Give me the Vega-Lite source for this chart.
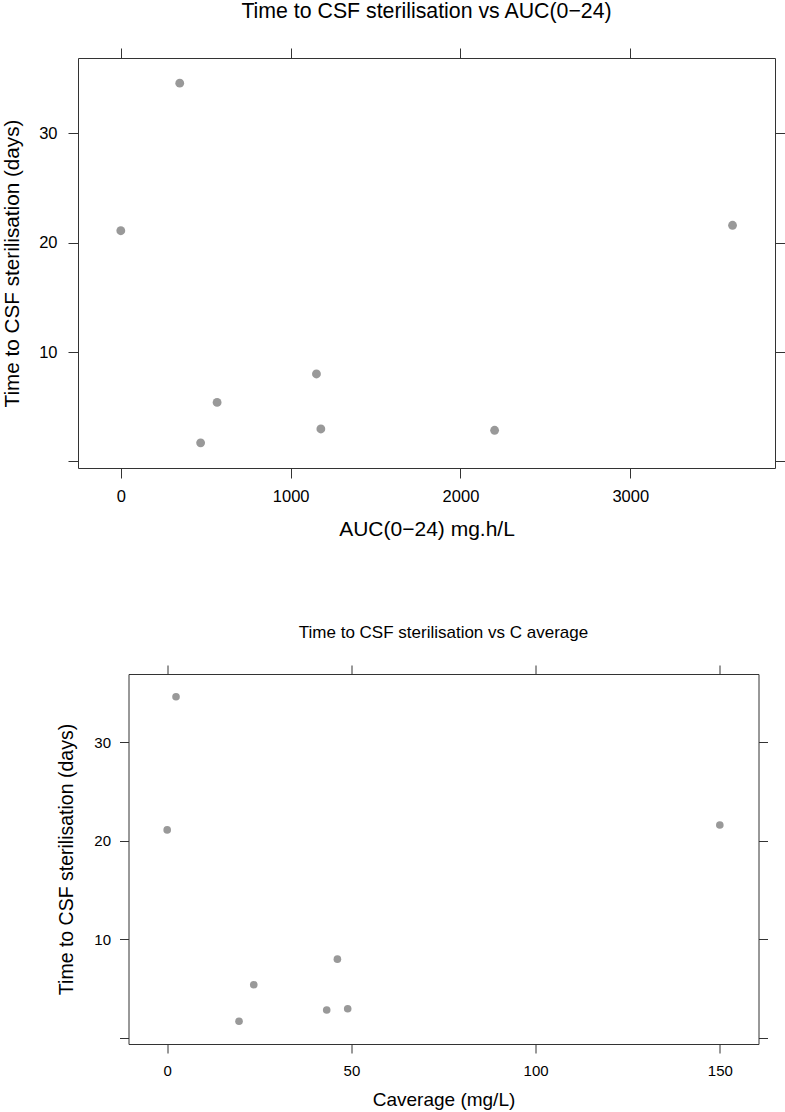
{
  "$schema": "https://vega.github.io/schema/vega-lite/v6.json",
  "background": "white",
  "padding": {"left": 1, "top": 0, "right": 0, "bottom": 0},
  "config": {
    "font": "Liberation Sans",
    "view": {"stroke": "#333333", "strokeWidth": 1},
    "axis": {"grid": false, "domain": false, "tickColor": "#333333", "tickWidth": 1, "tickSize": 10, "labelColor": "#000000", "titleColor": "#000000", "labelFont": "Liberation Sans", "titleFont": "Liberation Sans", "titleFontWeight": "normal"},
    "title": {"font": "Liberation Sans", "fontWeight": "normal", "color": "#000000", "anchor": "middle"}
  },
  "datasets": {
    "d": [
      {"auc": 0, "cav": 0, "t": 21.1},
      {"auc": 347, "cav": 2.4, "t": 34.6},
      {"auc": 470, "cav": 19.5, "t": 1.7},
      {"auc": 567, "cav": 23.5, "t": 5.4},
      {"auc": 1152, "cav": 46.2, "t": 8.0},
      {"auc": 1178, "cav": 49.0, "t": 2.97},
      {"auc": 2201, "cav": 43.3, "t": 2.85},
      {"auc": 3602, "cav": 150, "t": 21.6}
    ]
  },
  "concat": [
    {
      "hconcat": [
        {
          "width": 697,
          "height": 410,
          "title": {"text": "Time to CSF sterilisation vs AUC(0−24)", "fontSize": 21.3, "offset": 25},
          "data": {"name": "d"},
          "layer": [
            {
              "mark": {"type": "circle", "size": 78, "color": "#999999", "opacity": 1},
              "encoding": {
                "x": {"field": "auc", "type": "quantitative", "scale": {"domain": [-252, 3852], "nice": false, "zero": false},
                  "axis": {"orient": "bottom", "values": [0, 1000, 2000, 3000], "format": "d", "title": "AUC(0−24) mg.h/L", "labelFontSize": 16.5, "titleFontSize": 21, "labelPadding": 10, "titlePadding": 14, "labelFlush": false}},
                "y": {"field": "t", "type": "quantitative", "scale": {"domain": [-0.6, 36.9], "nice": false, "zero": false},
                  "axis": {"orient": "left", "values": [0, 10, 20, 30], "labelExpr": "datum.value == 0 ? '' : datum.label", "title": "Time to CSF sterilisation (days)", "labelFontSize": 16.5, "titleFontSize": 20.7, "labelPadding": 11, "titlePadding": 16}}
              }
            },
            {
              "mark": {"type": "circle", "size": 78, "opacity": 0},
              "encoding": {
                "x": {"field": "auc", "type": "quantitative", "axis": {"orient": "top", "values": [0, 1000, 2000, 3000], "labels": false, "title": null}},
                "y": {"field": "t", "type": "quantitative", "axis": {"orient": "right", "values": [0, 10, 20, 30], "labels": false, "title": null}}
              }
            }
          ],
          "resolve": {"axis": {"x": "independent", "y": "independent"}}
        }
      ]
    },
    {
      "hconcat": [
        {
          "width": 1,
          "height": 1,
          "view": {"stroke": null},
          "data": {"values": [{}]},
          "mark": {"type": "point", "opacity": 0, "size": 1},
          "encoding": {}
        },
        {
          "width": 630,
          "height": 370,
          "title": {"text": "Time to CSF sterilisation vs C average", "fontSize": 17, "offset": 23},
          "data": {"name": "d"},
          "layer": [
            {
              "mark": {"type": "circle", "size": 58, "color": "#999999", "opacity": 1},
              "encoding": {
                "x": {"field": "cav", "type": "quantitative", "scale": {"domain": [-10.5, 160.5], "nice": false, "zero": false},
                  "axis": {"orient": "bottom", "values": [0, 50, 100, 150], "title": "Caverage (mg/L)", "labelFontSize": 15, "titleFontSize": 19, "labelPadding": 10, "titlePadding": 12, "tickSize": 9, "labelFlush": false}},
                "y": {"field": "t", "type": "quantitative", "scale": {"domain": [-0.6, 36.9], "nice": false, "zero": false},
                  "axis": {"orient": "left", "values": [0, 10, 20, 30], "labelExpr": "datum.value == 0 ? '' : datum.label", "title": "Time to CSF sterilisation (days)", "labelFontSize": 15, "titleFontSize": 19.5, "labelPadding": 9, "titlePadding": 17, "tickSize": 9}}
              }
            },
            {
              "mark": {"type": "circle", "size": 58, "opacity": 0},
              "encoding": {
                "x": {"field": "cav", "type": "quantitative", "axis": {"orient": "top", "values": [0, 50, 100, 150], "labels": false, "title": null, "tickSize": 9}},
                "y": {"field": "t", "type": "quantitative", "axis": {"orient": "right", "values": [0, 10, 20, 30], "labels": false, "title": null, "tickSize": 9}}
              }
            }
          ],
          "resolve": {"axis": {"x": "independent", "y": "independent"}}
        }
      ],
      "spacing": -23.5
    }
  ],
  "columns": 1,
  "spacing": 83
}
